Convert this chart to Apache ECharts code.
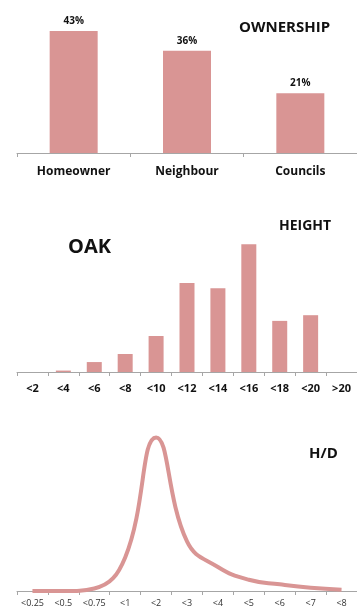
<!DOCTYPE html>
<html>
<head>
<meta charset="utf-8">
<script src="https://cdn.jsdelivr.net/npm/echarts@6/dist/echarts.min.js"></script>
<style>
html,body{margin:0;padding:0;background:#fff;}
#c{width:357px;height:610px;}
</style>
</head>
<body>
<div id="c"></div>
<script>
// Ownership
const ownCategories = ['Homeowner', 'Neighbour', 'Councils'];
const ownValues = [43, 36, 21];
// Height (oak)
const heightCategories = ['<2', '<4', '<6', '<8', '<10', '<12', '<14', '<16', '<18', '<20', '>20'];
const heightValues = [0, 0.3, 2.1, 3.8, 7.6, 18.8, 17.7, 27, 10.8, 12, 0];
// H/D ratio
const hdCategories = ['<0.25', '<0.5', '<0.75', '<1', '<2', '<3', '<4', '<5', '<6', '<7', '<8'];
const hdValues = [0, 0, 1.6, 21, 96, 31, 15, 7, 4.2, 2, 0.8];

const FONT = 'Open Sans';
const BAR = '#d99594';
const axisCommon = {
  axisLine: {show: true, lineStyle: {color: '#a6a6a6', width: 1}},
  axisTick: {show: true, length: 4, lineStyle: {color: '#a6a6a6'}, alignWithLabel: false},
  splitLine: {show: false}
};

const chart = echarts.init(document.getElementById('c'), null, {renderer: 'canvas'});
chart.setOption({
  animation: false,
  backgroundColor: '#fff',
  textStyle: {fontFamily: FONT},
  grid: [
    {left: 17, width: 345, top: 11, height: 142},
    {left: 17, width: 345, top: 230, height: 142},
    {left: 17, width: 345, top: 431, height: 160}
  ],
  xAxis: [
    Object.assign({type: 'category', gridIndex: 0, data: ownCategories,
      axisLabel: {margin: 13, color: '#111', fontWeight: 'bold', fontSize: 12, fontFamily: FONT}}, axisCommon),
    Object.assign({type: 'category', gridIndex: 1, data: heightCategories,
      axisLabel: {margin: 11, color: '#111', fontWeight: 'bold', fontSize: 11, fontFamily: FONT, interval: 0}}, axisCommon),
    Object.assign({type: 'category', gridIndex: 2, data: hdCategories,
      axisLabel: {margin: 8, color: '#333', fontSize: 9, fontFamily: FONT, interval: 0}}, axisCommon)
  ],
  yAxis: [
    {type: 'value', gridIndex: 0, min: 0, max: 50, show: false},
    {type: 'value', gridIndex: 1, min: 0, max: 30, show: false},
    {type: 'value', gridIndex: 2, min: 0, max: 100, show: false}
  ],
  series: [
    {type: 'bar', xAxisIndex: 0, yAxisIndex: 0, data: ownValues, barWidth: 48,
      itemStyle: {color: BAR},
      label: {show: true, position: 'top', distance: 5, formatter: '{c}%', color: '#111',
        fontWeight: 'bold', fontSize: 10, fontFamily: FONT}},
    {type: 'bar', xAxisIndex: 1, yAxisIndex: 1, data: heightValues, barWidth: 15,
      itemStyle: {color: BAR}},
    {type: 'line', xAxisIndex: 2, yAxisIndex: 2, data: hdValues, smooth: 0.45,
      symbol: 'none', lineStyle: {color: BAR, width: 4}}
  ],
  graphic: [
    {type: 'text', left: 239, top: 20, style: {text: 'OWNERSHIP', fill: '#111', font: 'bold 15px ' + FONT}},
    {type: 'text', left: 68, top: 237, style: {text: 'OAK', fill: '#111', font: 'bold 20px ' + FONT}},
    {type: 'text', left: 279, top: 219, style: {text: 'HEIGHT', fill: '#111', font: 'bold 14px ' + FONT}},
    {type: 'text', left: 309, top: 446, style: {text: 'H/D', fill: '#111', font: 'bold 15px ' + FONT}}
  ]
});
</script>
</body>
</html>
